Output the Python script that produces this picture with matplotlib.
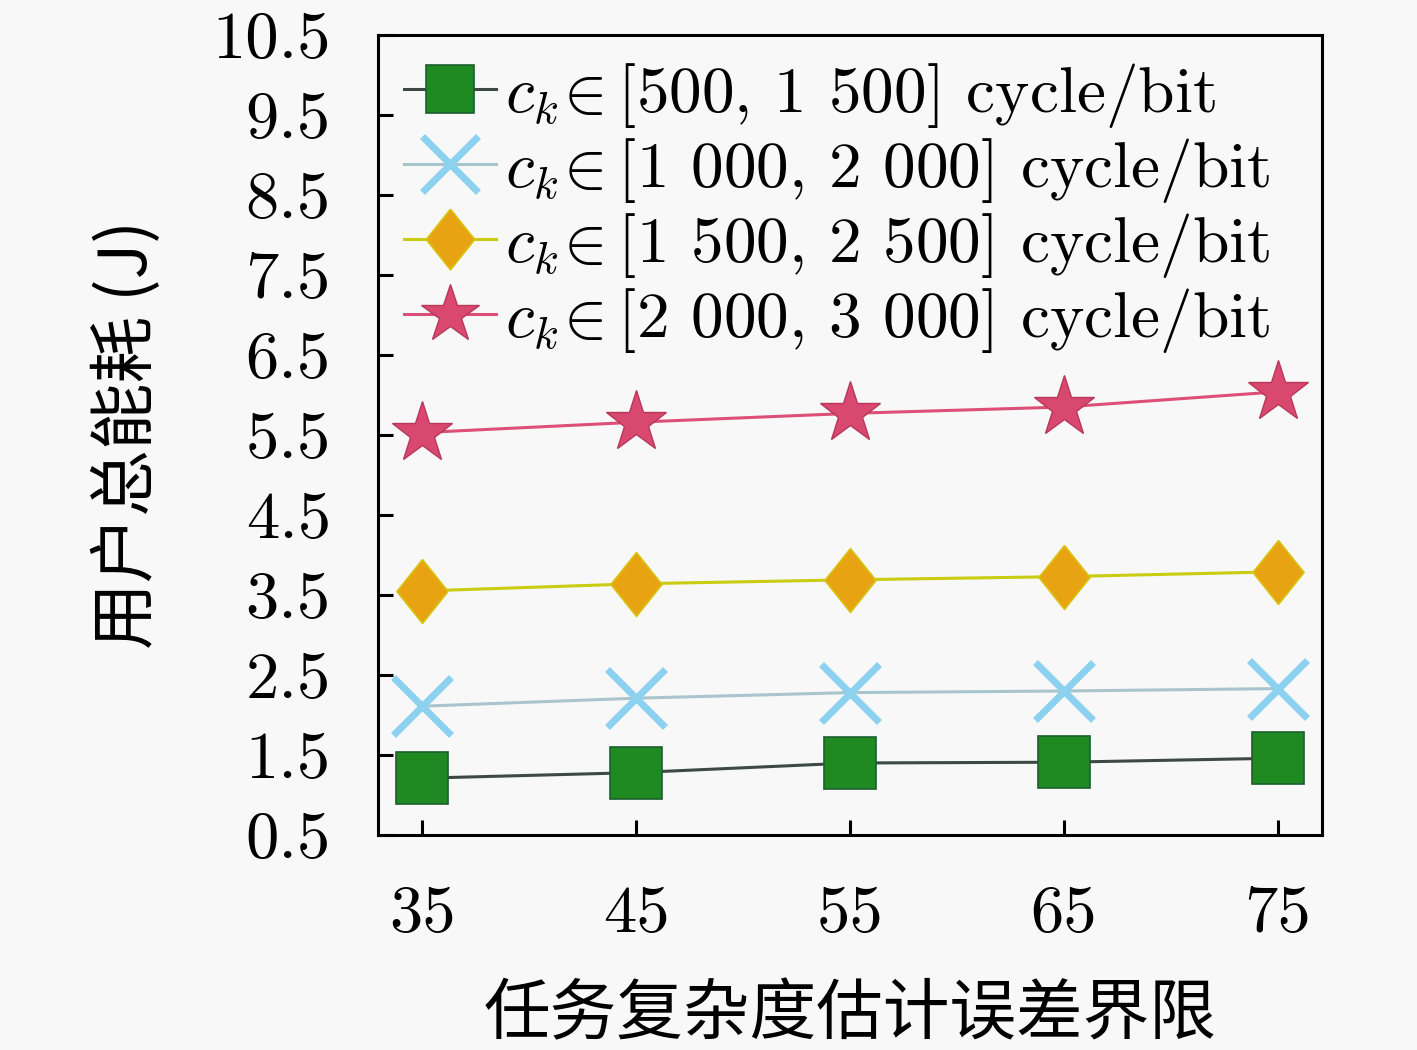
import matplotlib
matplotlib.use("Agg")
import matplotlib.pyplot as plt

# ==========================================
# Data
# ==========================================

x_bounds = [35, 45, 55, 65, 75]

energy_500_1500 = [1.21, 1.28, 1.40, 1.41, 1.46]
energy_1000_2000 = [2.11, 2.21, 2.28, 2.30, 2.33]
energy_1500_2500 = [3.55, 3.64, 3.69, 3.73, 3.79]
energy_2000_3000 = [5.53, 5.66, 5.77, 5.85, 6.04]

series_labels = [
    r"$c_k\!\in$[500, 1 500] cycle/bit",
    r"$c_k\!\in$[1 000, 2 000] cycle/bit",
    r"$c_k\!\in$[1 500, 2 500] cycle/bit",
    r"$c_k\!\in$[2 000, 3 000] cycle/bit",
]

y_ticks = [0.5, 1.5, 2.5, 3.5, 4.5, 5.5, 6.5, 7.5, 8.5, 9.5, 10.5]
y_tick_labels = ["0.5", "1.5", "2.5", "3.5", "4.5", "5.5",
                 "6.5", "7.5", "8.5", "9.5", "10.5"]
x_tick_labels = ["35", "45", "55", "65", "75"]

x_label = "任务复杂度估计误差界限"
y_label = "用户总能耗 (J)"

# ==========================================
# Style
# ==========================================

plt.rcParams["font.family"] = ["cmr10", "DejaVu Serif"]
plt.rcParams["mathtext.fontset"] = "cm"
plt.rcParams["axes.unicode_minus"] = False

bg = "#f8f8f8"
fs = 48

fig = plt.figure(figsize=(14.17, 10.5), dpi=100, facecolor=bg)
ax = fig.add_axes([378 / 1417, 1 - 835 / 1050, 944 / 1417, 800 / 1050])
ax.set_facecolor(bg)

tall_diamond = [(0, 1), (0.8, 0), (0, -1), (-0.8, 0), (0, 1)]

ax.plot(
    x_bounds, energy_500_1500,
    color="#3c4a42", linewidth=2.2,
    marker="s", markersize=37,
    markerfacecolor="#1f8a22", markeredgecolor="#1d5e30",
    markeredgewidth=1.2,
    label=series_labels[0]
)

ax.plot(
    x_bounds, energy_1000_2000,
    color="#a9c4cc", linewidth=2.2,
    marker="x", markersize=42,
    markeredgecolor="#8cd2f0", markeredgewidth=5,
    label=series_labels[1]
)

ax.plot(
    x_bounds, energy_1500_2500,
    color="#c9cc10", linewidth=2.2,
    marker=tall_diamond, markersize=46,
    markerfacecolor="#e8a312", markeredgecolor="#d8c410",
    markeredgewidth=1.2,
    label=series_labels[2]
)

ax.plot(
    x_bounds, energy_2000_3000,
    color="#dc4f78", linewidth=2.2,
    marker="*", markersize=46,
    markerfacecolor="#d9486f", markeredgecolor="#b8385c",
    markeredgewidth=1.0,
    label=series_labels[3]
)

# ==========================================
# Axes
# ==========================================

ax.set_xlim(32.94, 77.06)
ax.set_ylim(0.5, 10.5)

ax.set_xticks(x_bounds)
ax.set_xticklabels(x_tick_labels, fontsize=fs)
ax.set_yticks(y_ticks)
ax.set_yticklabels(y_tick_labels, fontsize=fs)

ax.tick_params(
    axis="both", direction="in", length=11, width=2.2,
    top=False, right=False, color="black"
)
ax.tick_params(axis="x", pad=36)
ax.tick_params(axis="y", pad=34)

for side in ax.spines.values():
    side.set_linewidth(2.2)
    side.set_color("black")

ax.set_xlabel(x_label, fontsize=fs, family=["Noto Sans CJK SC"], labelpad=27)
ax.set_ylabel(y_label, fontsize=fs, family=["Noto Sans CJK SC", "cmr10"], labelpad=36)

ax.legend(
    loc="upper left",
    frameon=False,
    fontsize=47,
    handlelength=1.4,
    handletextpad=0.15,
    labelspacing=0.09,
    borderaxespad=0.0,
    borderpad=0.4,
    markerscale=0.95
)

fig.savefig("out.png", dpi=100, facecolor=bg)
